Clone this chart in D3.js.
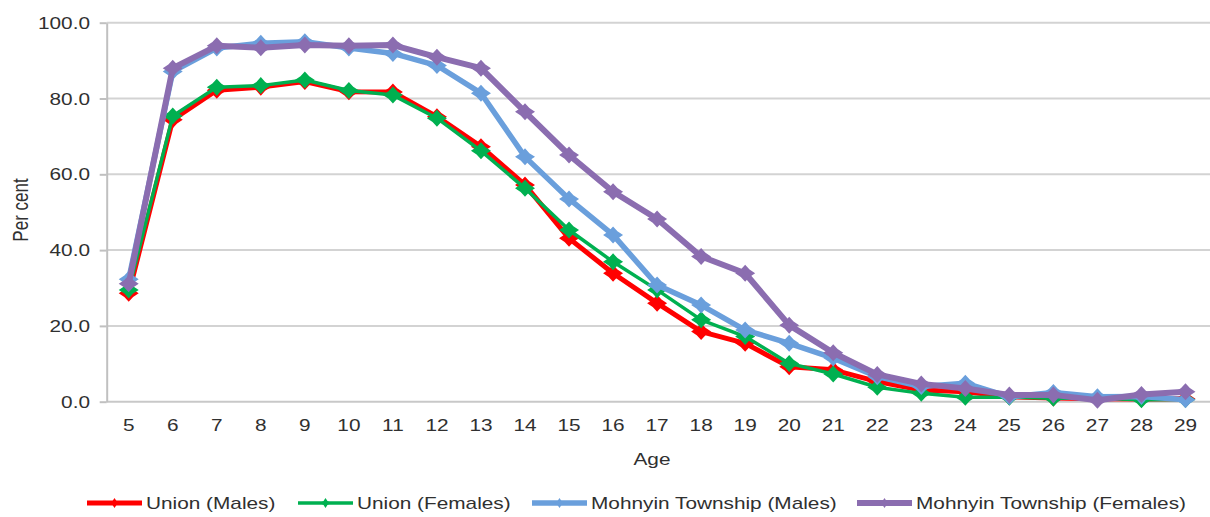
<!DOCTYPE html>
<html>
<head>
<meta charset="utf-8">
<script src="https://cdn.jsdelivr.net/npm/d3@7"></script>
<style>
  html, body { margin: 0; padding: 0; background: #fff; }
  svg { display: block; font-family: "Liberation Sans", Arial, sans-serif; }
</style>
</head>
<body>
<svg id="chart" width="1210" height="517"></svg>
<script>
const ages = [5,6,7,8,9,10,11,12,13,14,15,16,17,18,19,20,21,22,23,24,25,26,27,28,29];
const yTicks = [0, 20, 40, 60, 80, 100];
const seriesNames = ["Union (Males)", "Union (Females)", "Mohnyin Township (Males)", "Mohnyin Township (Females)"];
const unionMales   = [28.6, 74.4, 82.2, 83.0, 84.5, 81.8, 81.7, 75.2, 67.3, 57.2, 43.1, 33.9, 26.0, 18.5, 15.4, 9.2, 8.4, 5.3, 3.1, 2.6, 1.3, 1.0, 0.8, 0.7, 0.8];
const unionFemales = [29.5, 75.4, 83.0, 83.4, 84.9, 82.1, 80.9, 74.8, 66.2, 56.3, 45.3, 36.9, 29.5, 21.6, 17.2, 10.1, 7.3, 3.8, 2.2, 1.2, 1.2, 0.9, 0.9, 0.5, 0.6];
const mohnyinMales   = [32.3, 87.1, 93.3, 94.6, 95.0, 93.3, 91.9, 88.7, 81.4, 64.6, 53.5, 44.0, 30.8, 25.5, 18.9, 15.4, 11.5, 6.6, 4.0, 4.9, 1.3, 2.4, 1.3, 1.4, 0.5];
const mohnyinFemales = [31.1, 88.0, 93.9, 93.4, 94.1, 93.9, 94.1, 90.9, 88.0, 76.5, 65.1, 55.4, 48.2, 38.3, 33.9, 20.2, 12.9, 7.2, 4.7, 3.5, 1.8, 1.8, 0.4, 1.9, 2.6];

const seriesValues = [unionMales, unionFemales, mohnyinMales, mohnyinFemales];
const colors = ["#ff0000", "#00b050", "#6a9fdc", "#8b6db0"];
const widths = [5, 3.5, 5.5, 6];
const SX = 1.3; // horizontal text stretch seen in reference
const textColor = "#303030";

const svg = d3.select("#chart");
const plotLeft = 106.7, plotRight = 1207.5, plotTop = 22.7, plotBottom = 401.7;

const x = d3.scaleBand().domain(ages).range([plotLeft, plotRight]);
const xc = a => x(a) + x.bandwidth() / 2;
const y = d3.scaleLinear().domain([0, 100]).range([plotBottom, plotTop]);

// gridlines
svg.append("g").selectAll("line").data(yTicks.filter(d => d > 0)).join("line")
  .attr("x1", plotLeft).attr("x2", 1210)
  .attr("y1", d => y(d)).attr("y2", d => y(d))
  .attr("stroke", "#d3d3d3").attr("stroke-width", 2);

// x axis line
svg.append("line").attr("x1", plotLeft).attr("x2", 1210).attr("y1", plotBottom).attr("y2", plotBottom)
  .attr("stroke", "#c8c8c8").attr("stroke-width", 2);

// y axis
const yAxis = svg.append("g").attr("transform", `translate(${plotLeft},0)`)
  .call(d3.axisLeft(y).tickValues(yTicks).tickFormat(d3.format(".1f")).tickSize(7).tickSizeOuter(0));
yAxis.select(".domain").attr("stroke", "#c0c0c0").attr("stroke-width", 2);
yAxis.selectAll(".tick line").attr("stroke", "#c0c0c0").attr("stroke-width", 2);
yAxis.selectAll(".tick text")
  .attr("x", -16.7 / SX).attr("dy", "0.35em")
  .attr("transform", `scale(${SX},1)`)
  .attr("font-size", 16).attr("fill", textColor)
  .attr("font-family", "Liberation Sans, Arial, sans-serif");

// x axis labels
const xAxis = svg.append("g").attr("transform", `translate(0,${plotBottom})`)
  .call(d3.axisBottom(x).tickSize(0).tickSizeOuter(0));
xAxis.select(".domain").remove();
xAxis.selectAll(".tick text")
  .attr("y", 29).attr("dy", 0)
  .attr("transform", `scale(${SX},1)`)
  .attr("font-size", 16).attr("fill", textColor)
  .attr("font-family", "Liberation Sans, Arial, sans-serif");

// axis titles
svg.append("text").attr("transform", `translate(20,210) scale(${SX},1) rotate(-90)`)
  .attr("text-anchor", "middle").attr("dy", "0.35em")
  .attr("font-size", 17).attr("fill", textColor).text("Per cent");
svg.append("text").attr("transform", `translate(652,465) scale(${SX},1)`)
  .attr("text-anchor", "middle")
  .attr("font-size", 16).attr("fill", textColor).text("Age");

// star-like diamond marker (slightly wider than tall, as in reference)
function starPath(rx, ry, k) {
  const pts = [];
  for (let i = 0; i < 8; i++) {
    const ang = i * Math.PI / 4 - Math.PI / 2;
    const f = i % 2 === 0 ? 1 : k;
    pts.push([f * rx * Math.cos(ang), f * ry * Math.sin(ang)]);
  }
  return "M" + pts.map(p => p[0].toFixed(2) + "," + p[1].toFixed(2)).join("L") + "Z";
}

const line = d3.line().x((d, i) => xc(ages[i])).y(d => y(d));

seriesValues.forEach((vals, s) => {
  const g = svg.append("g");
  g.append("path").datum(vals).attr("d", line)
    .attr("fill", "none").attr("stroke", colors[s]).attr("stroke-width", widths[s])
    .attr("stroke-linejoin", "round");
  g.selectAll("path.m").data(vals).join("path").attr("class", "m")
    .attr("d", starPath(10, 8.5, 0.62))
    .attr("transform", (d, i) => `translate(${xc(ages[i])},${y(d)})`)
    .attr("fill", colors[s]);
});

// legend
const legendLineX = [87, 298, 532, 857];
const legendY = 503;
seriesNames.forEach((name, s) => {
  const lx = legendLineX[s];
  svg.append("line").attr("x1", lx).attr("x2", lx + 55).attr("y1", legendY).attr("y2", legendY)
    .attr("stroke", colors[s]).attr("stroke-width", widths[s]);
  svg.append("path").attr("d", starPath(6, 5, 0.5))
    .attr("transform", `translate(${lx + 27.5},${legendY})`).attr("fill", colors[s]);
  svg.append("text").attr("transform", `translate(${lx + 59},${legendY + 6}) scale(${SX},1)`)
    .attr("font-size", 16).attr("fill", textColor).text(name);
});
</script>
</body>
</html>
